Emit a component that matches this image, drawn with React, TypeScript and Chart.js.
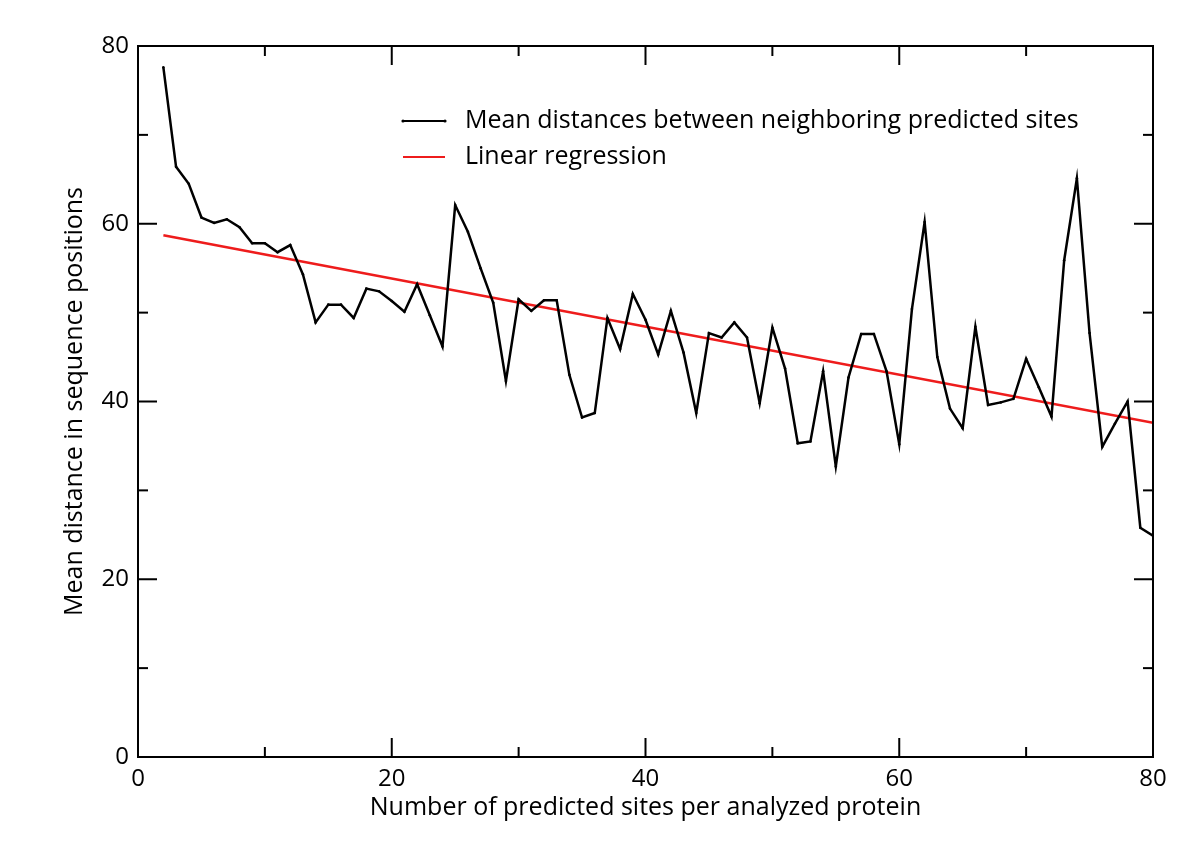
import { useEffect, useRef } from "react";
import { Chart, registerables } from "chart.js";

Chart.register(...registerables);

const sitesPerProtein = [
  2, 3, 4, 5, 6, 7, 8, 9, 10, 11, 12, 13, 14, 15, 16, 17, 18, 19, 20, 21,
  22, 23, 24, 25, 26, 27, 28, 29, 30, 31, 32, 33, 34, 35, 36, 37, 38, 39, 40, 41,
  42, 43, 44, 45, 46, 47, 48, 49, 50, 51, 52, 53, 54, 55, 56, 57, 58, 59, 60, 61,
  62, 63, 64, 65, 66, 67, 68, 69, 70, 71, 72, 73, 74, 75, 76, 77, 78, 79, 80,
];

const meanDistances = [
  77.6, 66.4, 64.5, 60.7, 60.1, 60.5, 59.6, 57.8, 57.8, 56.8, 57.6, 54.3, 48.9, 50.9, 50.9, 49.4, 52.7, 52.4, 51.3, 50.1,
  53.2, 49.7, 46.2, 62.1, 59.1, 55.0, 51.1, 42.3, 51.5, 50.2, 51.4, 51.4, 43.0, 38.2, 38.7, 49.4, 45.9, 52.1, 49.2, 45.3,
  50.2, 45.5, 38.7, 47.7, 47.2, 48.9, 47.2, 39.8, 48.3, 43.7, 35.3, 35.5, 43.4, 32.7, 42.7, 47.6, 47.6, 43.4, 35.2, 50.4,
  60.2, 45.0, 39.2, 37.0, 48.4, 39.6, 39.9, 40.3, 44.8, 41.6, 38.3, 55.9, 65.1, 47.7, 34.9, 37.5, 40.0, 25.8, 24.9,
];

const regressionX = [2, 80];
const regressionY = [58.7, 37.6];

const xTitle = "Number of predicted sites per analyzed protein";
const yTitle = "Mean distance in sequence positions";
const seriesLabel = "Mean distances between neighboring predicted sites";
const regressionLabel = "Linear regression";

const FONT = "'Open Sans', 'DejaVu Sans', sans-serif";

const framePlugin = {
  id: "frame",
  afterDatasetsDraw(chart: any) {
    const { ctx, chartArea, scales } = chart;
    const { left, right, top, bottom } = chartArea;
    const x = scales.x;
    const y = scales.y;
    ctx.save();
    ctx.strokeStyle = "#000";
    ctx.lineWidth = 2;
    ctx.strokeRect(left, top, right - left, bottom - top);
    const line = (x1: number, y1: number, x2: number, y2: number) => {
      ctx.beginPath();
      ctx.moveTo(x1, y1);
      ctx.lineTo(x2, y2);
      ctx.stroke();
    };
    for (let v = 0; v <= 80; v += 10) {
      const len = v % 20 === 0 ? 19 : 10;
      const px = x.getPixelForValue(v);
      line(px, bottom, px, bottom - len);
      line(px, top, px, top + len);
      const py = y.getPixelForValue(v);
      line(left, py, left + len, py);
      line(right, py, right - len, py);
    }
    // legend
    const ds = chart.data.datasets;
    const lx = left + 265;
    const rows = [top + 75, top + 111];
    ctx.font = `25px ${FONT}`;
    ctx.textBaseline = "middle";
    ctx.textAlign = "left";
    ds.forEach((d: any, i: number) => {
      const ly = rows[i];
      ctx.strokeStyle = d.borderColor;
      ctx.lineWidth = 2;
      line(lx, ly, lx + 42, ly);
      if (i === 0) {
        ctx.fillStyle = d.borderColor;
        ctx.beginPath();
        ctx.arc(lx, ly, 1.6, 0, Math.PI * 2);
        ctx.arc(lx + 42, ly, 1.6, 0, Math.PI * 2);
        ctx.fill();
      }
      ctx.fillStyle = "#000";
      ctx.fillText(d.label, lx + 62, ly);
    });
    ctx.restore();
  },
};

export default function App() {
  const canvasRef = useRef<HTMLCanvasElement | null>(null);

  useEffect(() => {
    document.body.style.margin = "0";
    const canvas = canvasRef.current;
    if (!canvas) return;
    const chart = new Chart(canvas, {
      type: "line",
      data: {
        datasets: [
          {
            label: seriesLabel,
            data: sitesPerProtein.map((s, i) => ({ x: s, y: meanDistances[i] })),
            borderColor: "#000000",
            backgroundColor: "#000000",
            borderWidth: 2.5,
            pointRadius: 1.3,
            pointBorderWidth: 0,
            tension: 0,
          },
          {
            label: regressionLabel,
            data: regressionX.map((s, i) => ({ x: s, y: regressionY[i] })),
            borderColor: "#ee1c1c",
            backgroundColor: "#ee1c1c",
            borderWidth: 2.5,
            pointRadius: 0,
            tension: 0,
          },
        ],
      },
      options: {
        animation: false,
        responsive: false,
        maintainAspectRatio: false,
        layout: { padding: { left: 0, top: 46, right: 47, bottom: 0 } },
        plugins: {
          legend: { display: false },
          tooltip: { enabled: false },
        },
        scales: {
          x: {
            type: "linear",
            min: 0,
            max: 80,
            grid: { display: false, drawTicks: false },
            border: { display: false },
            ticks: {
              stepSize: 20,
              color: "#000",
              padding: 8,
              maxRotation: 0,
              font: { family: FONT, size: 24 },
            },
            title: {
              display: true,
              text: xTitle,
              color: "#000",
              font: { family: FONT, size: 25 },
              padding: { top: 26, bottom: 26 },
            },
            afterFit: (scale: any) => {
              scale.height = 92;
            },
          },
          y: {
            type: "linear",
            min: 0,
            max: 80,
            grid: { display: false, drawTicks: false },
            border: { display: false },
            ticks: {
              stepSize: 20,
              color: "#000",
              padding: 9,
              font: { family: FONT, size: 24 },
            },
            title: {
              display: true,
              text: yTitle,
              color: "#000",
              font: { family: FONT, size: 25 },
              padding: { top: 60, bottom: 0 },
            },
            afterFit: (scale: any) => {
              scale.width = 138;
            },
          },
        },
      },
      plugins: [framePlugin],
    });
    return () => chart.destroy();
  }, []);

  return (
    <div style={{ width: 1200, height: 849, background: "#fff" }}>
      <canvas ref={canvasRef} width={1200} height={849} style={{ width: 1200, height: 849, display: "block" }} />
    </div>
  );
}
